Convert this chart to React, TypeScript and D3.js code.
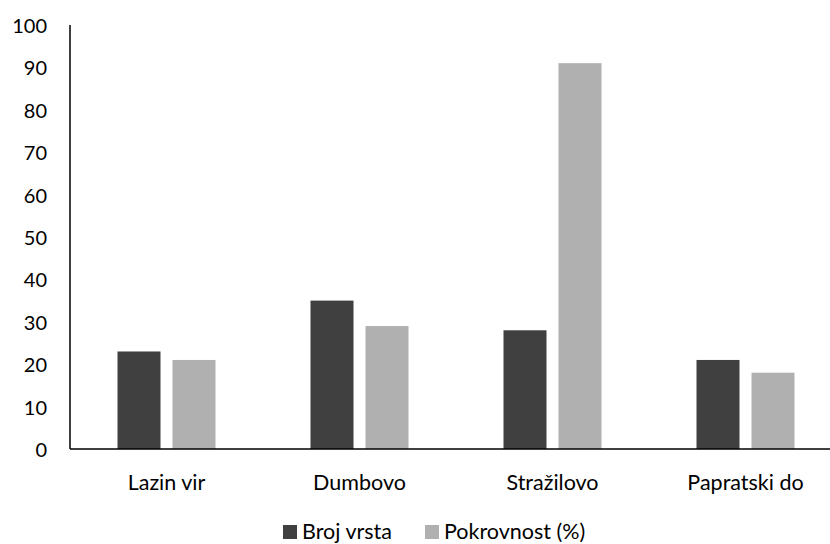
import React from "react";
import * as d3 from "d3";

const categories = ["Lazin vir", "Dumbovo", "Stražilovo", "Papratski do"];
const seriesNames = ["Broj vrsta", "Pokrovnost (%)"];
const brojVrsta = [23, 35, 28, 21];
const pokrovnost = [21, 29, 91, 18];
const yTicks = [0, 10, 20, 30, 40, 50, 60, 70, 80, 90, 100];
const colors = ["#404040", "#b0b0b0"];

const W = 830;
const H = 544;
const FONT = "Lato, 'Open Sans', sans-serif";

export default function App() {
  const left = 70;
  const right = 842;
  const top = 25;
  const bottom = 449;
  const x = d3.scaleBand<string>().domain(categories).range([left, right]).paddingInner(0).paddingOuter(0);
  const y = d3.scaleLinear().domain([0, 100]).range([bottom, top]);
  const barW = 43;
  const gap = 12;
  const series = [brojVrsta, pokrovnost];

  return (
    <svg width={W} height={H} style={{ position: "absolute", left: 0, top: 0, background: "#fff" }}>
      <rect x={0} y={0} width={W} height={H} fill="#fff" />
      {yTicks.map((t) => (
        <text key={t} x={47} y={y(t)} textAnchor="end" dominantBaseline="central" fontFamily={FONT} fontSize={20} fill="#000">
          {t}
        </text>
      ))}
      {categories.map((c, i) => {
        const cx = (x(c) as number) + x.bandwidth() / 2;
        const groupW = barW * 2 + gap;
        return (
          <g key={c}>
            {series.map((s, j) => {
              const bx = cx - groupW / 2 + j * (barW + gap);
              return (
                <rect key={j} x={bx} y={y(s[i])} width={barW} height={bottom - y(s[i])} fill={colors[j]} />
              );
            })}
            <text x={cx} y={482} textAnchor="middle" dominantBaseline="central" fontFamily={FONT} fontSize={21.5} fill="#000">
              {c}
            </text>
          </g>
        );
      })}
      <line x1={left} x2={left} y1={top} y2={bottom} stroke="#000" strokeWidth={1.5} />
      <line x1={left} x2={W} y1={bottom} y2={bottom} stroke="#000" strokeWidth={1.5} />
      {seriesNames.map((n, j) => {
        const lx = [283, 425][j];
        return (
          <g key={n}>
            <rect x={lx} y={525} width={14} height={14} fill={colors[j]} />
            <text x={lx + 19} y={531} dominantBaseline="central" fontFamily={FONT} fontSize={21.5} fill="#000">
              {n}
            </text>
          </g>
        );
      })}
    </svg>
  );
}
